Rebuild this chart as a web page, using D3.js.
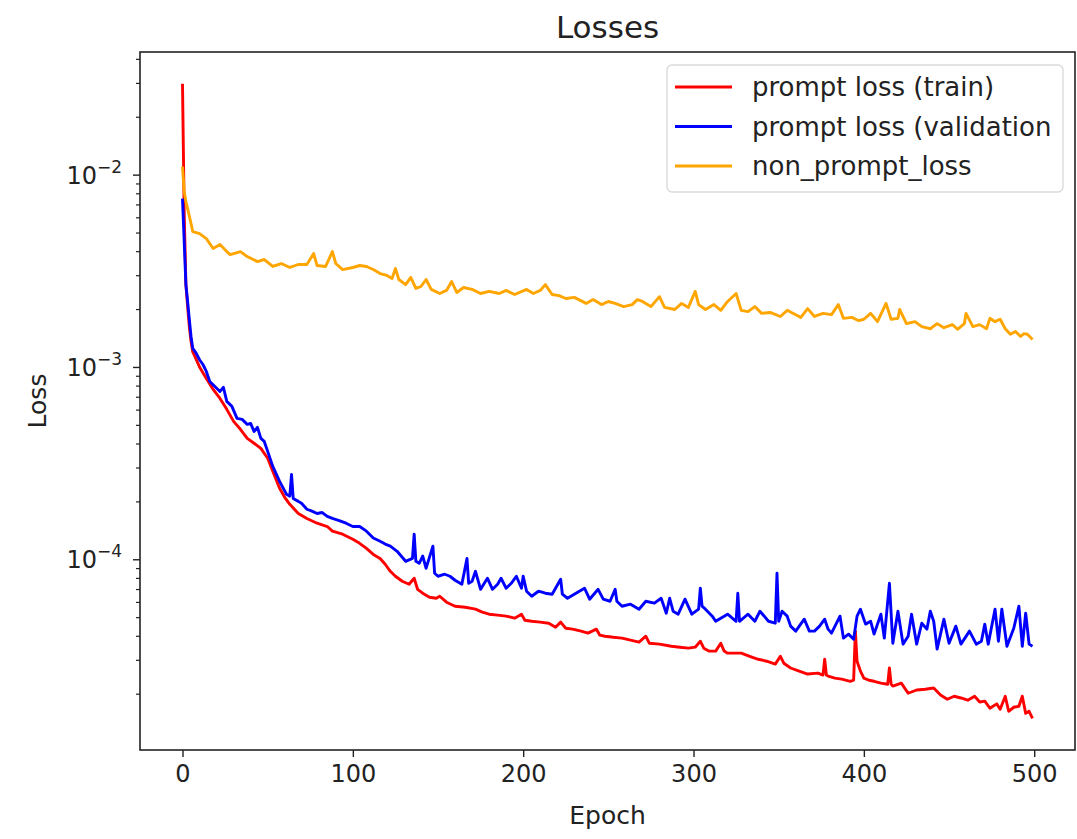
<!DOCTYPE html>
<html lang="en">
<head>
    <meta charset="UTF-8">
    <title>Losses</title>
    <script src="https://d3js.org/d3.v7.min.js"></script>
    <style>
        body { margin: 0; background: white; }
        text { font-family: "DejaVu Sans", sans-serif; fill: #222; }
    </style>
</head>
<body>
    <div id="chart"></div>

    <script>
        // [epoch, loss]
        const trainLoss = [[0,2.97e-2],[1,6.27e-3],[2,2.68e-3],[3,2.06e-3],[4,1.62e-3],[5,1.36e-3],[6,1.20e-3],[10,1.00e-3],[14,8.72e-4],[18,7.64e-4],[22,6.86e-4],[26,6.02e-4],[30,5.21e-4],[34,4.74e-4],[38,4.25e-4],[42,4.01e-4],[46,3.77e-4],[50,3.35e-4],[53,2.87e-4],[57,2.34e-4],[60,2.10e-4],[63,1.93e-4],[68,1.73e-4],[73,1.63e-4],[79,1.54e-4],[85,1.48e-4],[88,1.40e-4],[94,1.35e-4],[100,1.27e-4],[104,1.21e-4],[108,1.14e-4],[112,1.06e-4],[116,1.01e-4],[119,9.42e-5],[122,8.66e-5],[125,8.16e-5],[129,7.69e-5],[133,7.41e-5],[136,7.97e-5],[138,6.98e-5],[141,6.66e-5],[145,6.35e-5],[149,6.27e-5],[151,6.42e-5],[155,5.98e-5],[160,5.70e-5],[166,5.63e-5],[172,5.50e-5],[176,5.31e-5],[180,5.18e-5],[185,5.12e-5],[190,5.06e-5],[195,4.94e-5],[199,5.18e-5],[201,4.82e-5],[205,4.76e-5],[210,4.71e-5],[215,4.65e-5],[219,4.43e-5],[222,4.71e-5],[225,4.38e-5],[229,4.33e-5],[234,4.23e-5],[238,4.13e-5],[243,4.33e-5],[245,4.03e-5],[248,3.98e-5],[253,3.93e-5],[258,3.89e-5],[263,3.80e-5],[268,3.71e-5],[272,3.98e-5],[274,3.66e-5],[280,3.62e-5],[287,3.53e-5],[292,3.49e-5],[297,3.45e-5],[301,3.49e-5],[304,3.75e-5],[306,3.45e-5],[309,3.33e-5],[313,3.33e-5],[316,3.66e-5],[318,3.33e-5],[320,3.25e-5],[324,3.25e-5],[328,3.25e-5],[333,3.13e-5],[338,3.02e-5],[343,2.95e-5],[348,2.85e-5],[351,3.13e-5],[353,2.88e-5],[357,2.72e-5],[362,2.62e-5],[367,2.53e-5],[373,2.56e-5],[376,2.50e-5],[377,3.02e-5],[378,2.50e-5],[379,2.47e-5],[383,2.41e-5],[387,2.38e-5],[392,2.32e-5],[394,2.35e-5],[395,4.23e-5],[396,2.95e-5],[398,2.62e-5],[400,2.41e-5],[403,2.35e-5],[406,2.32e-5],[410,2.27e-5],[414,2.24e-5],[415,2.72e-5],[416,2.24e-5],[417,2.19e-5],[422,2.27e-5],[426,2.01e-5],[431,2.09e-5],[436,2.11e-5],[441,2.14e-5],[445,1.97e-5],[449,1.87e-5],[453,1.94e-5],[457,1.90e-5],[461,1.85e-5],[465,1.94e-5],[468,1.81e-5],[471,1.83e-5],[474,1.68e-5],[478,1.77e-5],[480,1.66e-5],[483,1.94e-5],[485,1.62e-5],[488,1.70e-5],[491,1.72e-5],[493,1.94e-5],[495,1.58e-5],[497,1.62e-5],[499,1.49e-5]];

        const validationLoss = [[0,7.50e-3],[1,4.49e-3],[2,2.68e-3],[3,2.19e-3],[4,1.77e-3],[5,1.44e-3],[6,1.25e-3],[8,1.18e-3],[10,1.09e-3],[12,1.03e-3],[14,9.48e-4],[16,8.41e-4],[19,7.92e-4],[22,7.46e-4],[24,7.83e-4],[26,6.62e-4],[29,6.24e-4],[32,5.40e-4],[35,5.34e-4],[38,5.03e-4],[40,5.09e-4],[42,4.62e-4],[44,4.85e-4],[46,4.25e-4],[48,4.10e-4],[50,3.64e-4],[53,3.04e-4],[57,2.54e-4],[61,2.18e-4],[63,2.13e-4],[64,2.76e-4],[65,2.07e-4],[68,2.00e-4],[70,1.95e-4],[73,1.82e-4],[76,1.78e-4],[79,1.73e-4],[82,1.75e-4],[85,1.67e-4],[88,1.63e-4],[92,1.59e-4],[96,1.54e-4],[100,1.48e-4],[104,1.48e-4],[108,1.40e-4],[112,1.29e-4],[116,1.24e-4],[119,1.20e-4],[122,1.17e-4],[126,1.10e-4],[131,9.76e-5],[135,1.01e-4],[136,1.35e-4],[137,9.76e-5],[139,9.53e-5],[141,1.04e-4],[143,8.98e-5],[147,1.17e-4],[148,8.46e-5],[150,8.16e-5],[154,8.36e-5],[157,8.16e-5],[160,7.78e-5],[164,7.41e-5],[167,1.01e-4],[168,7.50e-5],[170,7.69e-5],[172,8.66e-5],[175,6.98e-5],[179,7.97e-5],[182,6.98e-5],[185,7.41e-5],[187,7.97e-5],[190,7.07e-5],[193,7.50e-5],[196,8.16e-5],[199,7.07e-5],[200,8.16e-5],[202,6.82e-5],[205,6.42e-5],[209,6.82e-5],[213,6.66e-5],[217,6.58e-5],[222,7.87e-5],[223,6.58e-5],[226,6.27e-5],[231,6.66e-5],[236,7.07e-5],[239,6.20e-5],[244,6.98e-5],[247,6.20e-5],[251,6.05e-5],[254,6.98e-5],[255,6.05e-5],[258,5.70e-5],[263,5.84e-5],[268,5.50e-5],[272,6.05e-5],[277,5.91e-5],[281,6.27e-5],[284,5.24e-5],[286,6.27e-5],[288,5.37e-5],[291,5.18e-5],[295,6.20e-5],[299,5.18e-5],[303,5.50e-5],[304,7.07e-5],[305,5.70e-5],[307,5.50e-5],[311,5.06e-5],[313,4.76e-5],[315,4.88e-5],[320,5.18e-5],[325,4.76e-5],[326,6.66e-5],[327,4.76e-5],[332,5.18e-5],[336,4.76e-5],[339,5.37e-5],[344,4.76e-5],[348,4.65e-5],[349,8.46e-5],[350,4.76e-5],[352,5.37e-5],[355,5.06e-5],[357,4.49e-5],[360,4.23e-5],[365,4.88e-5],[368,4.23e-5],[371,4.23e-5],[374,4.49e-5],[377,4.88e-5],[379,4.33e-5],[381,4.13e-5],[386,5.06e-5],[388,3.89e-5],[391,4.08e-5],[394,3.84e-5],[396,5.06e-5],[398,5.50e-5],[401,4.60e-5],[404,4.76e-5],[406,4.08e-5],[410,5.18e-5],[412,3.89e-5],[415,7.50e-5],[417,3.66e-5],[420,5.37e-5],[423,3.62e-5],[426,3.98e-5],[428,5.18e-5],[431,3.62e-5],[434,4.65e-5],[437,4.33e-5],[439,5.37e-5],[441,4.76e-5],[443,3.41e-5],[447,4.88e-5],[450,3.66e-5],[454,4.49e-5],[457,3.62e-5],[462,4.23e-5],[466,3.62e-5],[469,3.75e-5],[471,4.60e-5],[473,3.62e-5],[477,5.50e-5],[479,3.75e-5],[481,5.50e-5],[484,3.53e-5],[488,4.38e-5],[491,5.70e-5],[493,3.53e-5],[495,5.24e-5],[497,3.62e-5],[499,3.53e-5]];

        const nonPromptLoss = [[0,0.0110],[1,0.00816],[2,0.00724],[3,0.00666],[5,0.00557],[6,0.00506],[10,0.00494],[14,0.00465],[18,0.00413],[22,0.00433],[26,0.00398],[28,0.00384],[34,0.00398],[38,0.00375],[44,0.00353],[48,0.00362],[53,0.00333],[58,0.00345],[63,0.00329],[68,0.00341],[73,0.00341],[77,0.00389],[79,0.00337],[84,0.00333],[88,0.00398],[90,0.00345],[94,0.00321],[100,0.00329],[104,0.00337],[108,0.00333],[112,0.00321],[116,0.00306],[120,0.00299],[123,0.00288],[125,0.00325],[127,0.00285],[131,0.00268],[134,0.00292],[137,0.00256],[140,0.00262],[143,0.00285],[146,0.00253],[151,0.00241],[155,0.00250],[158,0.00278],[161,0.00244],[165,0.00259],[170,0.00253],[175,0.00241],[180,0.00247],[186,0.00241],[190,0.00250],[195,0.00238],[202,0.00253],[206,0.00241],[210,0.00250],[213,0.00268],[217,0.00238],[221,0.00235],[225,0.00227],[230,0.00230],[237,0.00214],[241,0.00224],[246,0.00211],[250,0.00219],[254,0.00214],[259,0.00206],[264,0.00211],[267,0.00224],[270,0.00219],[275,0.00206],[280,0.00232],[283,0.00204],[289,0.00199],[293,0.00214],[297,0.00204],[301,0.00247],[303,0.00211],[307,0.00199],[312,0.00211],[316,0.00197],[320,0.00219],[325,0.00241],[328,0.00197],[332,0.00194],[336,0.00206],[340,0.00190],[345,0.00192],[351,0.00183],[355,0.00197],[360,0.00187],[363,0.00181],[367,0.00201],[371,0.00183],[376,0.00190],[381,0.00187],[385,0.00211],[388,0.00179],[393,0.00181],[397,0.00174],[400,0.00177],[404,0.00190],[408,0.00172],[413,0.00214],[416,0.00177],[420,0.00179],[421,0.00199],[425,0.00168],[430,0.00172],[434,0.00162],[439,0.00158],[443,0.00168],[447,0.00160],[452,0.00166],[455,0.00157],[459,0.00168],[460,0.00190],[464,0.00162],[468,0.00166],[472,0.00158],[474,0.00179],[477,0.00172],[480,0.00177],[483,0.00158],[486,0.00148],[489,0.00153],[492,0.00144],[494,0.00149],[496,0.00148],[499,0.00139]];

        const seriesNames = ["prompt loss (train)", "prompt loss (validation", "non_prompt_loss"];
        const seriesColors = ["red", "blue", "orange"];
        const xTicks = [0, 100, 200, 300, 400, 500];
        const yTicks = [1e-4, 1e-3, 1e-2];
        const yTickLabels = [["10", "\u22124"], ["10", "\u22123"], ["10", "\u22122"]];

        var width = 1077;
        var height = 839;
        var margin = {top: 52, right: 2, bottom: 89, left: 140};

        const svg = d3.select("#chart").append("svg")
            .attr("width", width)
            .attr("height", height);

        const allSeries = [trainLoss, validationLoss, nonPromptLoss];
        const allPts = allSeries.flat();

        // x limits with matplotlib's 5% margin
        const xExt = d3.extent(allPts, d => d[0]);
        const xPad = (xExt[1] - xExt[0]) * 0.05;
        const x = d3.scaleLinear()
            .domain([xExt[0] - xPad, xExt[1] + xPad])
            .range([margin.left, width - margin.right]);

        // y limits: 5% margin in log space
        const yExt = d3.extent(allPts, d => Math.log10(d[1]));
        const yPad = (yExt[1] - yExt[0]) * 0.05;
        const y = d3.scaleLog()
            .domain([Math.pow(10, yExt[0] - yPad), Math.pow(10, yExt[1] + yPad)])
            .range([height - margin.bottom, margin.top]);

        svg.append("clipPath").attr("id", "plotArea")
            .append("rect")
            .attr("x", margin.left).attr("y", margin.top)
            .attr("width", width - margin.left - margin.right)
            .attr("height", height - margin.top - margin.bottom);

        const line = d3.line()
            .x(d => x(d[0]))
            .y(d => y(d[1]));

        svg.append("g").attr("clip-path", "url(#plotArea)")
            .selectAll("path")
            .data(allSeries)
            .join("path")
            .attr("d", line)
            .attr("fill", "none")
            .attr("stroke", (d, i) => seriesColors[i])
            .attr("stroke-width", 2.9)
            .attr("stroke-linejoin", "round");

        // minor ticks on the log axis
        const minorTicks = [];
        const [yLo, yHi] = y.domain();
        for (let e = Math.floor(Math.log10(yLo)); e <= Math.ceil(Math.log10(yHi)); e++) {
            for (let m = 2; m <= 9; m++) {
                const v = m * Math.pow(10, e);
                if (v >= yLo && v <= yHi) minorTicks.push(v);
            }
        }

        const yMinor = svg.append("g")
            .attr("transform", `translate(${margin.left},0)`)
            .call(d3.axisLeft(y).tickValues(minorTicks).tickSize(4).tickFormat(""));
        yMinor.select(".domain").remove();
        yMinor.selectAll("line").attr("stroke", "#222").attr("stroke-width", 1.2);

        const yAxis = svg.append("g")
            .attr("transform", `translate(${margin.left},0)`)
            .call(d3.axisLeft(y).tickValues(yTicks).tickSize(7).tickFormat(""));
        yAxis.select(".domain").remove();
        yAxis.selectAll("line").attr("stroke", "#222").attr("stroke-width", 1.4);

        // 10^n labels
        const yLab = svg.append("g").selectAll("text")
            .data(yTicks)
            .join("text")
            .attr("x", margin.left - 18)
            .attr("y", d => y(d) + 9)
            .attr("text-anchor", "end")
            .attr("font-size", 24);
        yLab.append("tspan").text((d, i) => yTickLabels[i][0]);
        yLab.append("tspan")
            .attr("dy", -11)
            .attr("font-size", 17)
            .text((d, i) => yTickLabels[i][1]);

        const xAxis = svg.append("g")
            .attr("transform", `translate(0,${height - margin.bottom})`)
            .call(d3.axisBottom(x).tickValues(xTicks).tickSize(7).tickPadding(8));
        xAxis.select(".domain").remove();
        xAxis.selectAll("line").attr("stroke", "#222").attr("stroke-width", 1.4);
        xAxis.selectAll("text")
            .attr("font-size", 24)
            .attr("font-family", "DejaVu Sans")
            .attr("fill", "#222");

        // frame
        svg.append("rect")
            .attr("x", margin.left).attr("y", margin.top)
            .attr("width", width - margin.left - margin.right)
            .attr("height", height - margin.top - margin.bottom)
            .attr("fill", "none")
            .attr("stroke", "#222")
            .attr("stroke-width", 1.6);

        svg.append("text")
            .attr("x", (margin.left + width - margin.right) / 2)
            .attr("y", 38)
            .attr("text-anchor", "middle")
            .attr("font-size", 31)
            .text("Losses");

        svg.append("text")
            .attr("x", (margin.left + width - margin.right) / 2)
            .attr("y", 824)
            .attr("text-anchor", "middle")
            .attr("font-size", 25)
            .text("Epoch");

        svg.append("text")
            .attr("transform", `translate(46,${(margin.top + height - margin.bottom) / 2}) rotate(-90)`)
            .attr("text-anchor", "middle")
            .attr("font-size", 25)
            .text("Loss");

        // legend
        const legend = svg.append("g").attr("transform", "translate(667,65)");
        legend.append("rect")
            .attr("width", 396).attr("height", 127)
            .attr("rx", 5)
            .attr("fill", "white").attr("fill-opacity", 0.8)
            .attr("stroke", "#dadada").attr("stroke-width", 1.4);
        const rows = legend.selectAll("g.row")
            .data(seriesNames)
            .join("g")
            .attr("class", "row")
            .attr("transform", (d, i) => `translate(0,${22 + i * 39.5})`);
        rows.append("line")
            .attr("x1", 8).attr("x2", 65)
            .attr("stroke", (d, i) => seriesColors[i])
            .attr("stroke-width", 2.9);
        rows.append("text")
            .attr("x", 85)
            .attr("y", 9)
            .attr("font-size", 26)
            .text(d => d);
    </script>
</body>
</html>
